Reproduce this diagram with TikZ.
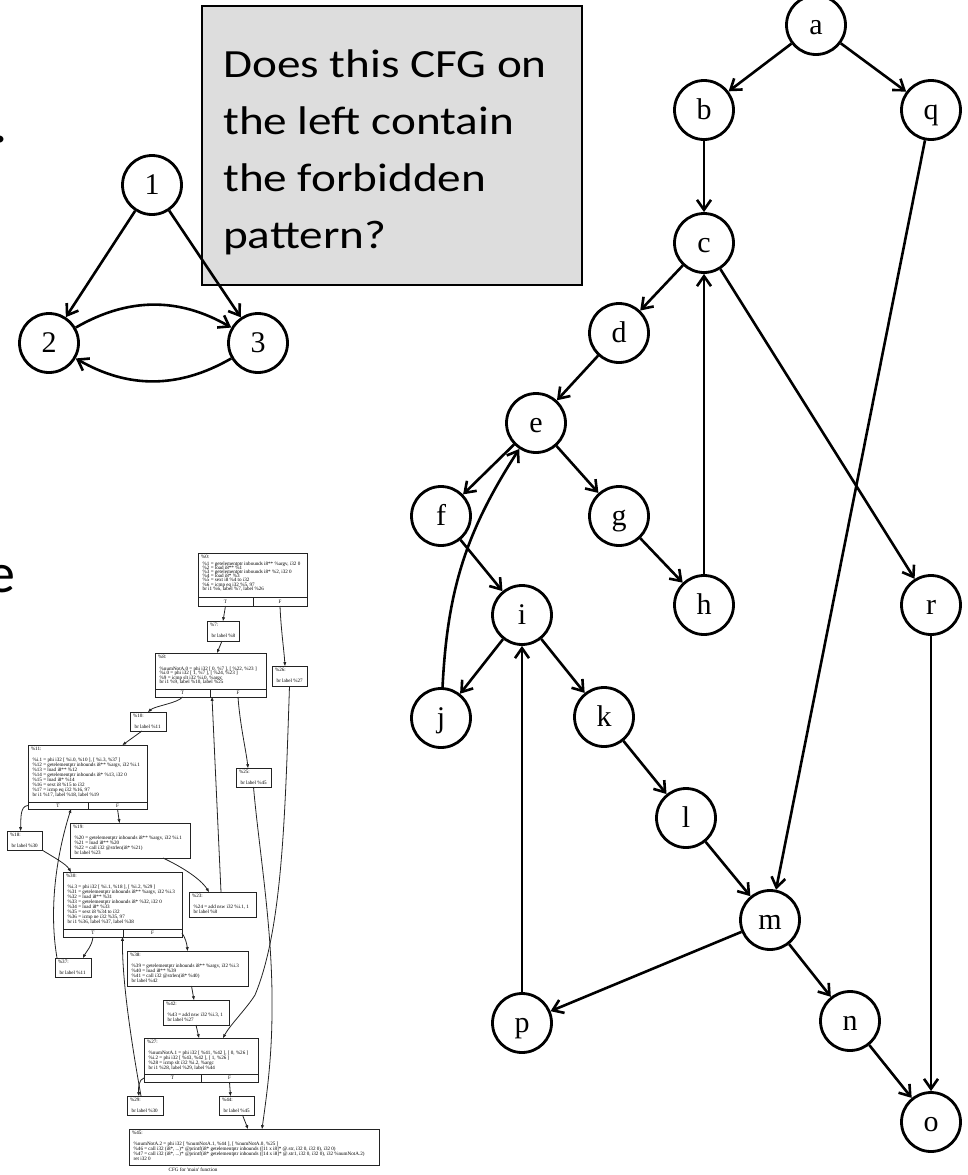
\documentclass[tikz,border=0pt]{standalone}
\usepackage{fontspec}
\setmainfont{Liberation Serif}
\newfontfamily\calib{Carlito}
\newfontfamily\calibw[FakeStretch=1.18]{Carlito}
\usetikzlibrary{arrows.meta}
\definecolor{qfill}{RGB}{221,221,221}
\definecolor{cfgline}{RGB}{35,35,35}

% tiny graphviz-style text of the LLVM CFG
\newcommand\cfgfont{\fontsize{5.1}{5}\selectfont\lineskiplimit=-20pt\lineskip=0pt}
\newcommand\cfgind{\kern1.7pt}

% basic block: name, x1, y1, x2, y2, line skip, text
\newcommand\cfgblock[7]{%
  \node[cfgbox, minimum width={(#4)-(#2)}, minimum height={(#5)-(#3)}] (#1) at (#2,#3) {};
  \node[cfgtext, font={\cfgfont\baselineskip=#6pt\relax}] (#1txt) at ({#2+2.8},{#3+1.5}) {\rule{0pt}{4pt}#7};
}
% T/F branch cells: name, x-left, x-mid, x-right, y-top, y-bottom
\newcommand\cfgcells[6]{%
  \node[cfgcell, minimum width={(#3)-(#2)}, minimum height={(#6)-(#5)}] (#1T) at (#2,#5) {T};
  \node[cfgcell, minimum width={(#4)-(#3)}, minimum height={(#6)-(#5)}] (#1F) at (#3,#5) {F};
}

\tikzset{
  gnode/.style={circle, draw, line width=2.8pt, minimum size=59pt, inner sep=0pt,
    text height=19pt, text depth=1pt, font=\fontsize{30}{31}\selectfont},
  gedge/.style={line width=2.6pt, -{Straight Barb[length=10pt,width=14pt]}},
  cfgbox/.style={draw=cfgline, line width=0.9pt, anchor=north west, inner sep=0pt, outer sep=0pt},
  cfgcell/.style={draw=cfgline, line width=0.9pt, anchor=north west, inner sep=0pt, outer sep=0pt, font=\cfgfont},
  cfgtext/.style={anchor=north west, inner sep=0pt, align=left},
  cfgedge/.style={draw=cfgline, line width=0.8pt, -{Triangle[length=3.8pt,width=2.8pt]}},
}

\begin{document}
\begin{tikzpicture}[x=1pt,y=-1pt]
\useasboundingbox (0,0) rectangle (967,1175);

% text cut off at the left margin
\node[anchor=base west, inner sep=0pt, font=\calib\fontsize{56}{60}\selectfont] (cutdot) at (-6.5,142) {.};
\node[anchor=base west, inner sep=0pt, font=\calib\fontsize{56}{60}\selectfont] (cute) at (-13,592) {e};

% question box
\node[draw, line width=2pt, fill=qfill, anchor=north west, minimum width=380, minimum height=279, inner sep=0pt] (qbox) at (201,5) {};
\node[anchor=north west, inner sep=0pt, align=left, font=\calibw\fontsize{40}{57.2}\selectfont] (qtext) at (223,42)
  {\rule{0pt}{35pt}Does this CFG on\\the left contain\\the forbidden\\pattern?};

% forbidden pattern
\node[gnode] (n1) at (152,185) {1};
\node[gnode] (n2) at (49,343) {2};
\node[gnode] (n3) at (258,343) {3};
\draw[gedge] (n1) -- (n2);
\draw[gedge] (n1) -- (n3);
\draw[gedge] (n2) to[bend left=30] (n3);
\draw[gedge] (n3) to[bend left=30] (n2);

% example graph
\node[gnode] (a) at (816,25) {a};
\node[gnode] (b) at (704,110) {b};
\node[gnode] (q) at (931,110) {q};
\node[gnode] (c) at (704,243) {c};
\node[gnode] (d) at (619,333) {d};
\node[gnode] (e) at (536,423) {e};
\node[gnode] (f) at (441,516) {f};
\node[gnode] (g) at (619,516) {g};
\node[gnode] (h) at (704,605) {h};
\node[gnode] (r) at (931,605) {r};
\node[gnode] (i) at (522,615) {i};
\node[gnode] (j) at (441,718) {j};
\node[gnode] (k) at (604,717) {k};
\node[gnode] (l) at (686,818) {l};
\node[gnode] (m) at (770,920) {m};
\node[gnode] (n) at (850,1021) {n};
\node[gnode] (p) at (522,1023) {p};
\node[gnode] (o) at (931,1122) {o};

\draw[gedge] (a) -- (b);
\draw[gedge] (a) -- (q);
\draw[gedge] (b) -- (c);
\draw[gedge] (c) -- (d);
\draw[gedge] (c) -- (r);
\draw[gedge] (d) -- (e);
\draw[gedge] (e) -- (f);
\draw[gedge] (e) -- (g);
\draw[gedge] (f) -- (i);
\draw[gedge] (g) -- (h);
\draw[gedge] (h) -- (c);
\draw[gedge] (i) -- (j);
\draw[gedge] (i) -- (k);
\draw[gedge] (j) to[bend left=15] (e);
\draw[gedge] (k) -- (l);
\draw[gedge] (l) -- (m);
\draw[gedge] (m) -- (n);
\draw[gedge] (m) -- (p);
\draw[gedge] (n) -- (o);
\draw[gedge] (p) -- (i);
\draw[gedge] (q) -- (m);
\draw[gedge] (r) -- (o);

% LLVM control flow graph of main
\cfgblock{b0}{198}{553}{307}{606}{4.2}{\%0:\\[2.1pt]
  \cfgind\%1 = getelementptr inbounds i8** \%argv, i32 0\\
  \cfgind\%2 = load i8** \%1\\
  \cfgind\%3 = getelementptr inbounds i8* \%2, i32 0\\
  \cfgind\%4 = load i8* \%3\\
  \cfgind\%5 = sext i8 \%4 to i32\\
  \cfgind\%6 = icmp eq i32 \%5, 97\\
  \cfgind br i1 \%6, label \%7, label \%26}
\cfgcells{b0}{198}{253}{307}{597}{606}

\cfgblock{b7}{207}{621}{239}{641}{5}{\%7:\\[6pt]\cfgind br label \%8}

\cfgblock{b8}{155}{653}{266}{697}{4.5}{\%8:\\[7pt]
  \cfgind\%numNotA.0 = phi i32 [ 0, \%7 ], [ \%22, \%23 ]\\
  \cfgind\%i.0 = phi i32 [ 1, \%7 ], [ \%24, \%23 ]\\
  \cfgind\%9 = icmp slt i32 \%i.0, \%argc\\
  \cfgind br i1 \%9, label \%10, label \%25}
\cfgcells{b8}{155}{210}{266}{689}{697}

\cfgblock{b26}{272}{666}{307}{686}{5}{\%26:\\[6pt]\cfgind br label \%27}
\cfgblock{b10}{130}{712}{166}{731}{5}{\%10:\\[6pt]\cfgind br label \%11}

\cfgblock{b11}{28}{745}{147}{809}{5}{\%11:\\[6pt]
  \cfgind\%i.1 = phi i32 [ \%i.0, \%10 ], [ \%i.3, \%37 ]\\
  \cfgind\%12 = getelementptr inbounds i8** \%argv, i32 \%i.1\\
  \cfgind\%13 = load i8** \%12\\
  \cfgind\%14 = getelementptr inbounds i8* \%13, i32 0\\
  \cfgind\%15 = load i8* \%14\\
  \cfgind\%16 = sext i8 \%15 to i32\\
  \cfgind\%17 = icmp eq i32 \%16, 97\\
  \cfgind br i1 \%17, label \%18, label \%19}
\cfgcells{b11}{28}{88}{147}{802}{809}

\cfgblock{b25}{236}{768}{271}{787}{5}{\%25:\\[6pt]\cfgind br label \%45}
\cfgblock{b18}{7}{831}{42}{850}{5}{\%18:\\[6pt]\cfgind br label \%30}

\cfgblock{b19}{70}{823}{190}{858}{5}{\%19:\\[6pt]
  \cfgind\%20 = getelementptr inbounds i8** \%argv, i32 \%i.1\\
  \cfgind\%21 = load i8** \%20\\
  \cfgind\%22 = call i32 @strlen(i8* \%21)\\
  \cfgind br label \%23}

\cfgblock{b30}{63}{872}{182}{937}{5}{\%30:\\[6pt]
  \cfgind\%i.3 = phi i32 [ \%i.1, \%18 ], [ \%i.2, \%29 ]\\
  \cfgind\%31 = getelementptr inbounds i8** \%argv, i32 \%i.3\\
  \cfgind\%32 = load i8** \%31\\
  \cfgind\%33 = getelementptr inbounds i8* \%32, i32 0\\
  \cfgind\%34 = load i8* \%33\\
  \cfgind\%35 = sext i8 \%34 to i32\\
  \cfgind\%36 = icmp ne i32 \%35, 97\\
  \cfgind br i1 \%36, label \%37, label \%38}
\cfgcells{b30}{63}{123}{182}{929}{937}

\cfgblock{b23}{189}{892}{256}{917}{5}{\%23:\\[6pt]
  \cfgind\%24 = add nsw i32 \%i.1, 1\\
  \cfgind br label \%8}

\cfgblock{b37}{55}{958}{91}{977}{5}{\%37:\\[6pt]\cfgind br label \%11}

\cfgblock{b38}{127}{951}{248}{986}{5}{\%38:\\[6pt]
  \cfgind\%39 = getelementptr inbounds i8** \%argv, i32 \%i.3\\
  \cfgind\%40 = load i8** \%39\\
  \cfgind\%41 = call i32 @strlen(i8* \%40)\\
  \cfgind br label \%42}

\cfgblock{b42}{163}{1000}{229}{1025}{5}{\%42:\\[6pt]
  \cfgind\%43 = add nsw i32 \%i.3, 1\\
  \cfgind br label \%27}

\cfgblock{b27}{144}{1038}{258}{1082}{5}{\%27:\\[6pt]
  \cfgind\%numNotA.1 = phi i32 [ \%41, \%42 ], [ 0, \%26 ]\\
  \cfgind\%i.2 = phi i32 [ \%43, \%42 ], [ 1, \%26 ]\\
  \cfgind\%28 = icmp slt i32 \%i.2, \%argc\\
  \cfgind br i1 \%28, label \%29, label \%44}
\cfgcells{b27}{144}{201}{258}{1074}{1082}

\cfgblock{b29}{127}{1096}{163}{1115}{5}{\%29:\\[6pt]\cfgind br label \%30}
\cfgblock{b44}{219}{1096}{254}{1115}{5}{\%44:\\[6pt]\cfgind br label \%45}

\cfgblock{b45}{129}{1129}{379}{1165}{5}{\%45:\\[6pt]
  \cfgind\%numNotA.2 = phi i32 [ \%numNotA.1, \%44 ], [ \%numNotA.0, \%25 ]\\
  \cfgind\%46 = call i32 (i8*, ...)* @printf(i8* getelementptr inbounds ([11 x i8]* @.str, i32 0, i32 0), i32 0)\\
  \cfgind\%47 = call i32 (i8*, ...)* @printf(i8* getelementptr inbounds ([14 x i8]* @.str1, i32 0, i32 0), i32 \%numNotA.2)\\
  \cfgind ret i32 0}

\node[inner sep=0pt, font=\cfgfont] (cfgcap) at (193,1170) {CFG for \textquotesingle main\textquotesingle\ function};

% CFG edges
\draw[cfgedge] (b0T.south) -- (b7.north);
\draw[cfgedge] (b0F.south) .. controls (281,630) and (284,650) .. ([xshift=-4.5pt]b26.north);
\draw[cfgedge] ([xshift=-1pt]b7.south) -- ([xshift=6.5pt]b8.north);
\draw[cfgedge] (b8T.south) .. controls (178,703) and (155,706) .. (b10.north);
\draw[cfgedge] (b8F.south) .. controls (240,725) and (246,750) .. ([xshift=-5.5pt]b25.north);
\draw[cfgedge] (b26.south) .. controls (285,820) and (282,930) .. (255,995)
  .. controls (247,1008) and (230,1025) .. ([xshift=22pt]b27.north);
\draw[cfgedge] ([xshift=-6pt]b10.south) -- ([xshift=35pt]b11.north);
\draw[cfgedge] (b11T.west) .. controls (20,806) and (21,818) .. ([xshift=-4pt]b18.north);
\draw[cfgedge] (b11F.south) -- ([xshift=-10.5pt]b19.north);
\draw[cfgedge] (b25.south) .. controls (259,850) and (273,930) .. (272,1010)
  .. controls (272,1060) and (266,1100) .. ([xshift=8pt]b45.north);
\draw[cfgedge] (b18.south east) .. controls (55,858) and (66,864) .. ([xshift=-51.5pt]b30.north);
\draw[cfgedge] ([xshift=33pt]b19.south) .. controls (180,866) and (200,878) .. ([xshift=-13.5pt]b23.north);
\draw[cfgedge] ([xshift=-1.5pt]b23.north) -- ([xshift=1.5pt]b8.south);
\draw[cfgedge] (b30T.south) .. controls (92,946) and (86,952) .. ([xshift=10pt]b37.north);
\draw[cfgedge] (b30F.east) .. controls (185,937) and (187,944) .. (b38.north);
\draw[cfgedge] ([xshift=2pt]b37.north west) .. controls (48,905) and (58,850) .. ([xshift=13pt]b11T.south);
\draw[cfgedge] ([xshift=4pt]b38.south) -- ([xshift=-2pt]b42.north);
\draw[cfgedge] (b42.south) -- ([xshift=-2pt]b27.north);
\draw[cfgedge] (b27T.west) .. controls (139,1079) and (138,1088) .. ([xshift=-6pt]b29.north);
\draw[cfgedge] (b27F.south) -- ([xshift=-6pt]b44.north);
\draw[cfgedge] ([xshift=-4pt]b29.north) .. controls (131,1040) and (122,980) .. (b30.south);
\draw[cfgedge] ([xshift=6pt]b44.south) -- ([xshift=-6pt]b45.north);
\end{tikzpicture}
\end{document}
